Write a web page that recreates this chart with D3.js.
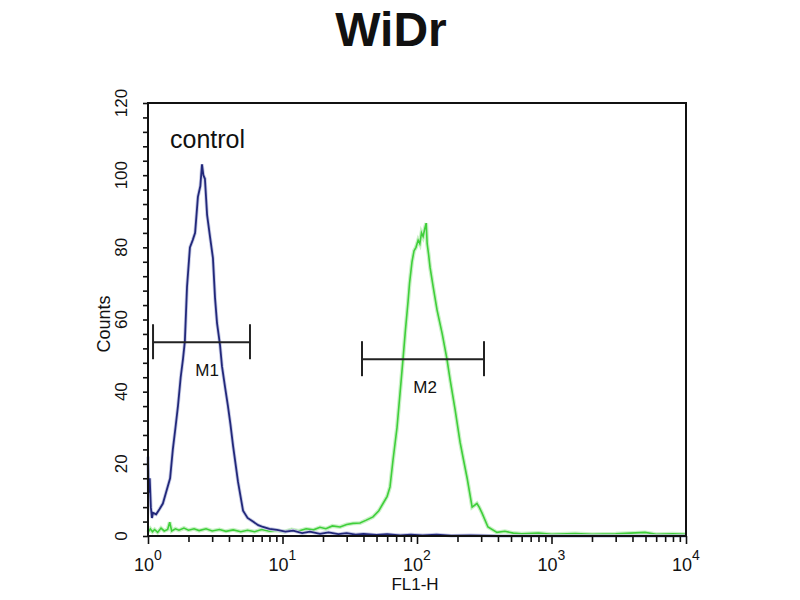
<!DOCTYPE html>
<html>
<head>
<meta charset="utf-8">
<script src="https://cdn.jsdelivr.net/npm/d3@7"></script>
<style>
  body { margin: 0; background: #fff; }
  svg text { font-family: Arial, "Liberation Sans", sans-serif; fill: #111; }
</style>
</head>
<body>
<svg id="histogram" width="800" height="600"></svg>
<script>
// Control histogram (blue), FL1-H value -> counts
const controlFl1 = [1.00, 1.01, 1.03, 1.05, 1.07, 1.09, 1.15, 1.22, 1.29, 1.36, 1.46, 1.53, 1.60, 1.67,
  1.75, 1.82, 1.88, 1.95, 2.05, 2.15, 2.24, 2.35, 2.45, 2.52, 2.58, 2.65, 2.75, 2.89, 3.04, 3.15,
  3.26, 3.43, 3.55, 3.75, 3.93, 4.10, 4.29, 4.67, 5.09, 5.50, 6.03, 6.60, 7.16, 8.0, 9.10, 10.5,
  12, 14, 16, 19, 22, 26, 30, 35, 40, 50, 60, 75, 90, 110, 140, 180, 250, 400, 1000, 3000, 10000];
const controlCounts = [22, 12, 16, 8, 5, 6.4, 6, 7.5, 9, 12, 16, 24, 30, 36,
  44, 49, 54, 69, 80, 82, 84, 94, 97, 103, 100, 99, 89, 83, 77, 66,
  59, 53, 47, 41, 36, 31, 25, 15, 7, 5, 4, 3, 2.5, 2, 1.7, 1.2,
  1.5, 0.8, 1.2, 0.6, 1.0, 0.5, 0.8, 0.4, 0.6, 0.3, 0.5, 0.2, 0.4, 0.2, 0.4, 0.1, 0.2, 0, 0, 0, 0];

// WiDr sample histogram (green)
const sampleFl1 = [1.00, 1.04, 1.08, 1.12, 1.18, 1.25, 1.32, 1.40, 1.45, 1.50, 1.60, 1.70, 1.85, 2.0,
  2.2, 2.4, 2.7, 3.0, 3.4, 3.8, 4.3, 4.9, 5.5, 6.2, 7.0, 8.0, 9.0, 10.3, 11.7, 13.2, 15, 17, 19, 21,
  23.5, 26.8, 30, 33.4, 37.7, 42, 47.1, 52, 55.9, 60, 63, 66.3, 71, 74.8, 78.7, 82, 85.8, 88, 91.8,
  95, 98.3, 102, 105, 108, 111, 114, 117, 119, 122, 125, 132, 141, 154, 167, 176, 192, 209, 222,
  236, 257, 279, 290, 304, 337, 393, 450, 520, 600, 800, 1000, 1500, 2000, 3000, 4955, 6000, 8000, 10000];
const sampleCounts = [1, 2, 1.2, 1.8, 1.0, 2.2, 1.4, 1.8, 3.8, 1.4, 2.0, 1.6, 2.2, 1.6,
  2.0, 1.5, 2.0, 1.4, 1.8, 1.3, 1.7, 1.2, 1.6, 1.2, 1.8, 1.3, 1.6, 1.2, 1.8, 1.4, 2.0, 1.7, 2.4, 2.0,
  2.8, 2.5, 3.2, 3.5, 3.6, 4.4, 5.3, 7, 9, 11, 13.6, 21, 30, 39.6, 49, 57, 65, 70, 76,
  79, 80, 82, 81, 84, 83, 85, 86.7, 81, 78, 74.5, 69, 62.6, 56, 49, 43.5, 35, 26, 21,
  16, 8, 9, 8, 6.4, 2.5, 1, 1.3, 0.8, 0.6, 0.8, 0.5, 0.7, 0.5, 0.6, 1.0, 0.5, 0.6, 0.5];

// Markers
const markerNames = ['M1', 'M2'];
const markerStart = [1.09, 39];
const markerEnd = [5.73, 315];
const markerLevel = [53.7, 49];
const markerLabelAt = [2.75, 115];

const yTickLabels = [0, 20, 40, 60, 80, 100, 120];
const xDecades = [1, 10, 100, 1000, 10000];

const svg = d3.select('#histogram');

const x = d3.scaleLog().domain([1, 10000]).range([148, 686]);
const y = d3.scaleLinear().domain([0, 120]).range([536, 103]);

// Title
svg.append('text')
  .attr('x', 391).attr('y', 46)
  .attr('text-anchor', 'middle')
  .style('font-size', '48px').style('font-weight', 'bold')
  .text('WiDr');

// Curves
const line = d3.line().x(d => x(d[0])).y(d => y(d[1]));
const sampleData = d3.zip(sampleFl1, sampleCounts);
const controlData = d3.zip(controlFl1, controlCounts);

svg.append('path').datum(sampleData)
  .attr('d', line).attr('fill', 'none')
  .attr('stroke', '#c9f1c6').attr('stroke-width', 4);
svg.append('path').datum(sampleData)
  .attr('d', line).attr('fill', 'none')
  .attr('stroke', '#3fcf3a').attr('stroke-width', 1.6);
svg.append('path').datum(controlData)
  .attr('d', line).attr('fill', 'none')
  .attr('stroke', '#c7cbe6').attr('stroke-width', 3.5);
svg.append('path').datum(controlData)
  .attr('d', line).attr('fill', 'none')
  .attr('stroke', '#22287a').attr('stroke-width', 1.8);

// Plot frame
svg.append('rect')
  .attr('x', x(1)).attr('y', y(120))
  .attr('width', x(10000) - x(1)).attr('height', y(0) - y(120))
  .attr('fill', 'none').attr('stroke', '#111').attr('stroke-width', 2);

// Y axis
const yAxis = svg.append('g')
  .attr('transform', `translate(${x(1)},0)`)
  .call(d3.axisLeft(y).tickValues(d3.range(0, 121, 4)).tickSize(5).tickFormat(''));
yAxis.select('.domain').remove();
yAxis.selectAll('.tick line').attr('stroke', '#111').attr('stroke-width', 1.6);

svg.append('g').selectAll('text')
  .data(yTickLabels)
  .enter()
  .append('text')
  .attr('transform', d => `translate(127,${y(d)}) rotate(-90)`)
  .attr('text-anchor', 'middle')
  .style('font-size', '17px')
  .text(d => d);

svg.append('text')
  .attr('transform', 'translate(110,324) rotate(-90)')
  .attr('text-anchor', 'middle')
  .style('font-size', '18px')
  .text('Counts');

// X axis
const xMinor = [];
for (let i = 0; i < 4; i++) {
  for (let k = 1; k < 10; k++) xMinor.push(k * xDecades[i]);
}
xMinor.push(10000);

const xAxis = svg.append('g')
  .attr('transform', `translate(0,${y(0)})`)
  .call(d3.axisBottom(x).tickValues(xMinor).tickSize(6).tickFormat(''));
xAxis.select('.domain').remove();
xAxis.selectAll('.tick line')
  .attr('stroke', '#111').attr('stroke-width', 1.6)
  .attr('y2', d => xDecades.includes(d) ? 8 : 6);

const xLabels = svg.append('g').selectAll('text')
  .data(xDecades)
  .enter()
  .append('text')
  .attr('x', d => x(d))
  .attr('y', 571)
  .attr('text-anchor', 'middle')
  .style('font-size', '18px');
xLabels.append('tspan').text('10');
xLabels.append('tspan')
  .attr('dy', -11)
  .style('font-size', '14px')
  .text(d => Math.round(Math.log10(d)));

svg.append('text')
  .attr('x', 415).attr('y', 590)
  .attr('text-anchor', 'middle')
  .style('font-size', '17px')
  .text('FL1-H');

// Control label
svg.append('text')
  .attr('x', 170).attr('y', 148)
  .style('font-size', '25px')
  .text('control');

// Markers
const markers = svg.append('g').selectAll('g')
  .data(markerNames)
  .enter()
  .append('g');

markers.append('line')
  .attr('x1', (d, i) => x(markerStart[i])).attr('x2', (d, i) => x(markerEnd[i]))
  .attr('y1', (d, i) => y(markerLevel[i])).attr('y2', (d, i) => y(markerLevel[i]))
  .attr('stroke', '#222').attr('stroke-width', 2);
markers.append('line')
  .attr('x1', (d, i) => x(markerStart[i])).attr('x2', (d, i) => x(markerStart[i]))
  .attr('y1', (d, i) => y(markerLevel[i]) - 18).attr('y2', (d, i) => y(markerLevel[i]) + 17)
  .attr('stroke', '#222').attr('stroke-width', 2);
markers.append('line')
  .attr('x1', (d, i) => x(markerEnd[i])).attr('x2', (d, i) => x(markerEnd[i]))
  .attr('y1', (d, i) => y(markerLevel[i]) - 18).attr('y2', (d, i) => y(markerLevel[i]) + 17)
  .attr('stroke', '#222').attr('stroke-width', 2);
markers.append('text')
  .attr('x', (d, i) => x(markerLabelAt[i]))
  .attr('y', (d, i) => y(markerLevel[i]) + 34)
  .attr('text-anchor', 'middle')
  .style('font-size', '17px')
  .text(d => d);
</script>
</body>
</html>
